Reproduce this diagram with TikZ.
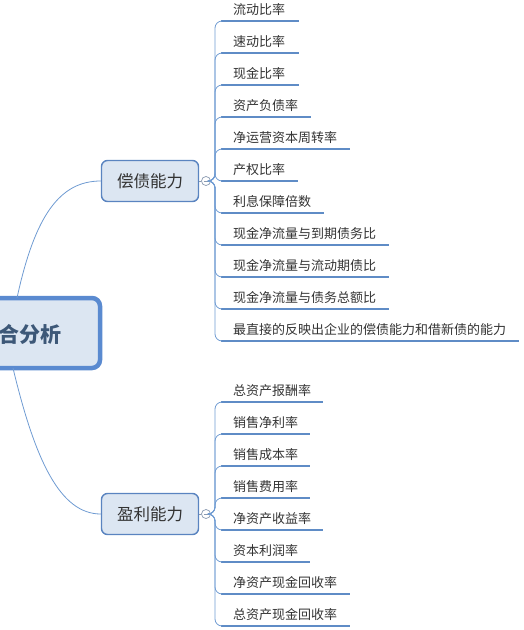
\documentclass[tikz,border=0pt]{standalone}
\usepackage{fontspec}
\setmainfont{Noto Sans CJK SC}
\begin{document}
\begin{tikzpicture}[x=1pt,y=-1pt,
  rootbox/.style={draw=rootblue,fill=boxfill,line width=4.5pt,rounded corners=8pt},
  branchbox/.style={draw=branchblue,fill=boxfill,line width=1.4pt,rounded corners=6pt,
     minimum width=97pt,minimum height=41pt,inner sep=0pt,font=\fontsize{16.5}{18}\selectfont,text=txtgray},
  toggle/.style={circle,draw=circgray,fill=white,line width=0.7pt,minimum size=9pt,inner sep=0pt},
  leaftext/.style={anchor=base west,inner sep=0pt,font=\fontsize{13}{15}\selectfont,text=txtgray},
  uline/.style={draw=ulblue,line width=2.8pt},
  conn/.style={draw=connblue,line width=0.8pt},
  spine/.style={draw=connblue,line width=0.8pt,rounded corners=7pt}]
\definecolor{rootblue}{HTML}{5A8AD0}
\definecolor{branchblue}{HTML}{5A84C0}
\definecolor{boxfill}{HTML}{DCE6F2}
\definecolor{txtgray}{HTML}{333333}
\definecolor{roottxt}{HTML}{3D5878}
\definecolor{circgray}{HTML}{8A9AB0}
\definecolor{ulblue}{HTML}{5F8CC6}
\definecolor{connblue}{HTML}{6F9BD2}
\useasboundingbox (0,0) rectangle (523,630);
% root
\draw[rootbox] (-80,298) rectangle (100,368);
\node[anchor=east,inner sep=0pt,font=\fontsize{21}{24}\selectfont\bfseries,text=roottxt] (root) at (62,334) {综合分析};
\coordinate (rtop) at (17,298);
\coordinate (rbot) at (13,368);
% branches
\node[branchbox] (b1) at (150,181) {偿债能力};
\node[branchbox] (b2) at (150,514) {盈利能力};
\draw[conn] (rtop) .. controls (35,215) and (60,181) .. (b1.west);
\draw[conn] (rbot) .. controls (35,460) and (60,514) .. (b2.west);
\node[toggle] (t1) at (206,181) {};
\node[toggle] (t2) at (206,514) {};
\draw[circgray,line width=0.7pt] (b1.east) -- (t1.west);
\draw[circgray,line width=0.7pt] (b2.east) -- (t2.west);
\draw[circgray,line width=0.8pt] (203.5,181) -- (208.5,181);
\draw[circgray,line width=0.8pt] (203.5,514) -- (208.5,514);
% leaves group 1
\foreach \i/\t/\e in {0/流动比率/299,1/速动比率/299,2/现金比率/299,3/资产负债率/311,4/净运营资本周转率/350,5/产权比率/298,6/利息保障倍数/324,7/现金净流量与到期债务比/389,8/现金净流量与流动期债比/389,9/现金净流量与债务总额比/389,10/最直接的反映出企业的偿债能力和借新债的能力/519}{
  \pgfmathsetmacro{\yy}{21+32*\i}
  \node[leaftext] (a\i) at (233,\yy-7) {\t};
  \coordinate (as\i) at (221,\yy);
  \coordinate (ae\i) at (\e,\yy);
  \path[uline] (as\i) -- (ae\i);
  \path[spine] (t1.east) -- (215,181) -- (215,\yy) -- (as\i);
}
% leaves group 2
\foreach \i/\t/\e in {0/总资产报酬率/323,1/销售净利率/310,2/销售成本率/310,3/销售费用率/310,4/净资产收益率/323,5/资本利润率/310,6/净资产现金回收率/350,7/总资产现金回收率/350}{
  \pgfmathsetmacro{\yy}{402+32*\i}
  \node[leaftext] (c\i) at (233,\yy-7) {\t};
  \coordinate (cs\i) at (221,\yy);
  \coordinate (ce\i) at (\e,\yy);
  \path[uline] (cs\i) -- (ce\i);
  \path[spine] (t2.east) -- (215,514) -- (215,\yy) -- (cs\i);
}
\end{tikzpicture}
\end{document}
